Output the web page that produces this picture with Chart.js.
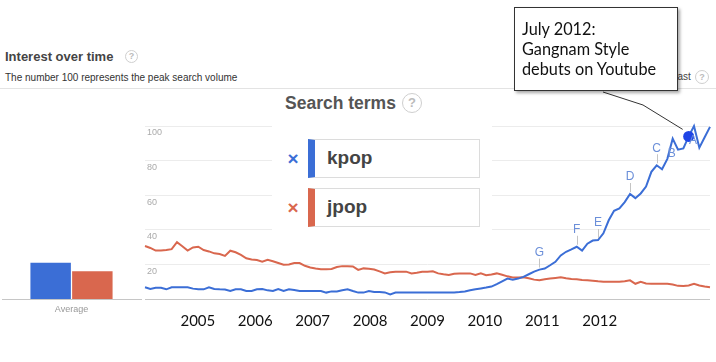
<!DOCTYPE html>
<html><head><meta charset="utf-8">
<script src="https://cdn.jsdelivr.net/npm/chart.js@4.4.0/dist/chart.umd.min.js"></script>
<style>
html,body{margin:0;padding:0;background:#fff;width:716px;height:362px;overflow:hidden;font-family:"Liberation Sans",Arial,sans-serif;}
.abs{position:absolute;white-space:nowrap;}
canvas{position:absolute;left:0;top:0;z-index:1;}
.help{position:absolute;box-sizing:border-box;border:1px solid #cfcfcf;border-radius:50%;color:#bbb;text-align:center;font-weight:bold;}
.term{position:absolute;box-sizing:border-box;left:308px;width:172px;height:39px;border:1px solid #dcdcdc;background:#fff;font-weight:bold;font-size:19px;color:#444;line-height:35px;padding-left:12px;}
.x{position:absolute;left:286px;width:14px;text-align:center;font-weight:bold;font-size:19px;line-height:20px;}
</style>
</head><body>
<div class="abs" style="left:5px;top:48px;font-size:13px;line-height:17px;font-weight:bold;color:#444;">Interest over time</div>
<div class="help" style="left:125px;top:50px;width:13px;height:13px;font-size:9px;line-height:11px;">?</div>
<div class="abs" style="left:5px;top:72px;font-size:10px;line-height:12px;color:#333;">The number 100 represents the peak search volume</div>
<div class="abs" style="left:0;top:88px;width:716px;height:1px;background:#e3e3e3;"></div>
<div class="abs" style="left:652px;top:71px;font-size:10px;line-height:12px;color:#444;">Forecast</div>
<div class="help" style="left:695px;top:70px;width:14px;height:14px;font-size:9px;line-height:12px;">?</div>

<canvas id="avg" width="145" height="362"></canvas>
<canvas id="main" width="716" height="362"></canvas>

<div class="abs" style="left:272px;top:90px;width:220px;height:148px;background:#fff;z-index:2;">
  <div class="abs" style="left:13px;top:3px;font-size:17.5px;line-height:20px;font-weight:bold;color:#555;">Search terms</div>
  <div class="help" style="left:130px;top:3px;width:20px;height:20px;font-size:13px;line-height:18px;">?</div>
</div>
<div style="position:absolute;left:0;top:0;z-index:3;">
  <div class="x" style="top:149px;color:#3b6ed6;">×</div>
  <div class="term" style="top:139px;border-left:7px solid #3b6ed6;">kpop</div>
  <div class="x" style="top:198px;color:#d9674e;">×</div>
  <div class="term" style="top:188px;border-left:7px solid #d9674e;">jpop</div>
</div>

<div class="abs" style="left:514px;top:7px;width:164px;height:84px;box-sizing:border-box;border:1px solid #333;background:#fff;box-shadow:2px 2px 3px rgba(0,0,0,0.35);z-index:5;font-family:Lato,'Open Sans',sans-serif;font-size:16.3px;line-height:20px;color:#111;padding:11px 0 0 7px;">July 2012:<br>Gangnam Style<br>debuts on Youtube</div>

<script>
// ---- data ----
const monthNames = ['Jan','Feb','Mar','Apr','May','Jun','Jul','Aug','Sep','Oct','Nov','Dec'];
const months = [];
for (let y = 2004; y <= 2012; y++) for (let m = 0; m < 12; m++) { if (y === 2012 && m > 10) break; months.push(monthNames[m] + ' ' + y); }

const kpop = [
 6.8,5.8,6.5,6.5,5.6,6.8,6.8,6.8,6.8,6.0,
 5.6,5.6,6.8,5.8,5.6,5.5,4.6,5.6,5.6,4.6,
 4.6,5.6,5.8,5.0,4.6,5.8,4.6,5.6,5.2,4.6,
 4.6,4.6,4.6,4.6,3.7,4.4,4.4,5.0,5.6,4.6,
 3.7,3.7,4.6,4.0,4.0,3.8,2.7,3.7,3.7,3.7,
 3.7,3.7,3.7,3.7,3.7,3.7,3.7,3.7,3.7,4.0,
 4.4,5.0,5.6,6.1,6.6,7.2,8.6,10.2,11.8,11.1,
 11.8,12.8,14.3,15.8,17.0,17.6,19.5,21.5,25.2,27.3,
 28.7,30.2,28.0,32.0,33.8,34.1,38.0,45.5,51.0,52.4,
 56.0,60.7,58.3,61.0,65.0,73.5,77.3,75.0,81.0,92.7,
 86.3,87.0,94.0,100,87.5,93.5,99.5
];
const jpop = [
 30.6,29.5,28.0,28.0,28.3,28.8,32.8,30.5,28.0,29.8,
 30.2,28.3,27.5,26.4,26.0,24.9,27.9,27.0,25.5,23.5,
 22.8,22.5,21.6,22.6,21.8,20.8,19.8,20.0,20.8,20.8,
 19.2,18.2,17.6,17.2,17.2,17.4,18.5,19.0,19.0,18.8,
 16.8,17.7,17.5,17.0,16.0,14.8,15.5,15.8,15.8,15.8,
 14.8,15.2,15.8,15.8,16.0,14.8,14.3,13.9,14.6,14.8,
 14.8,14.8,13.9,14.8,13.8,14.2,14.8,14.0,13.1,12.5,
 12.5,12.6,12.0,11.2,10.8,11.4,11.8,12.2,12.5,12.0,
 11.6,11.4,11.0,10.8,10.5,10.2,10.0,10.0,10.0,10.0,
 10.2,10.8,8.8,10.0,9.0,8.8,8.8,8.8,8.8,8.4,
 7.6,7.5,7.8,8.8,7.8,7.2,6.8
];
const averageLabels = ['Average'];
const kpopAvg = [21];
const jpopAvg = [16];
const yearLabels = ['2005','2006','2007','2008','2009','2010','2011','2012'];
const yTicks = [20,40,60,80,100];
const newsFlags = [
 {letter:'G', month:'Mar 2010', side:'above'},
 {letter:'F', month:'Oct 2010', side:'above'},
 {letter:'E', month:'Feb 2011', side:'above'},
 {letter:'D', month:'Aug 2011', side:'above'},
 {letter:'C', month:'Jan 2012', side:'above'},
 {letter:'B', month:'Apr 2012', side:'below'},
 {letter:'A', month:'Aug 2012', side:'below'}
];
const gangnamMonth = 'Jul 2012';

// ---- styles ----
const BLUE = '#3b6ed6', RED = '#d9674e';
const gIdx = months.indexOf(gangnamMonth);

const flagsPlugin = {
  id: 'flags',
  afterDatasetsDraw(chart) {
    const ctx = chart.ctx, xs = chart.scales.x, ys = chart.scales.y;
    ctx.save();
    ctx.font = '12px "Liberation Sans", Arial, sans-serif';
    ctx.textAlign = 'center'; ctx.textBaseline = 'middle';
    newsFlags.forEach(f => {
      const i = months.indexOf(f.month);
      const x = xs.getPixelForValue(i), y = ys.getPixelForValue(kpop[i]);
      if (f.side === 'above') {
        ctx.strokeStyle = '#c4c4c4'; ctx.lineWidth = 1;
        ctx.beginPath(); ctx.moveTo(Math.round(x)+0.5, y - 2); ctx.lineTo(Math.round(x)+0.5, y - 11); ctx.stroke();
        ctx.fillStyle = '#6b8fd9'; ctx.fillText(f.letter, x, y - 17);
      } else {
        ctx.fillStyle = '#6b8fd9'; ctx.fillText(f.letter, x - 1, y + 15);
      }
    });
    // callout line to the Gangnam Style point
    const pt = chart.getDatasetMeta(0).data[gIdx];
    ctx.strokeStyle = '#333'; ctx.lineWidth = 1;
    ctx.beginPath(); ctx.moveTo(603, 92); ctx.lineTo(643, 105); ctx.lineTo(pt.x - 6, pt.y - 7); ctx.stroke();
    ctx.restore();
  }
};

new Chart(document.getElementById('main'), {
  type: 'line',
  data: {
    labels: months,
    datasets: [
      { label: 'kpop', data: kpop, borderColor: BLUE, borderWidth: 2, tension: 0,
        pointRadius: kpop.map((v, i) => i === gIdx ? 5.5 : 0), pointBackgroundColor: '#1f45e6', pointBorderWidth: 0, clip: false },
      { label: 'jpop', data: jpop, borderColor: RED, borderWidth: 2, tension: 0, pointRadius: 0, clip: false }
    ]
  },
  options: {
    responsive: false, animation: false, events: [],
    layout: { padding: { left: 141, right: 6, top: 126, bottom: 23 } },
    plugins: { legend: { display: false }, tooltip: { enabled: false } },
    scales: {
      x: { type: 'category', display: false, offset: false },
      x2: { type: 'linear', position: 'bottom', min: 2004.08, max: 2013.92,
        grid: { display: false, drawTicks: false }, border: { display: false },
        afterBuildTicks: s => { s.ticks = yearLabels.map(y => ({ value: Number(y) })); },
        afterFit: s => { s.height = 40; },
        ticks: { padding: 13, color: '#111', autoSkip: false, maxRotation: 0,
          font: { family: 'Lato, sans-serif', size: 15 },
          callback: v => String(v) } },
      y: { min: 0, max: 100,
        afterBuildTicks: s => { s.ticks = [0].concat(yTicks).map(v => ({ value: v })); },
        grid: { drawTicks: false, color: c => c.tick && c.tick.value === 0 ? '#c6c6c6' : '#ececec' },
        border: { display: false },
        ticks: { mirror: true, padding: 2, labelOffset: 7, color: '#aaa',
          font: { family: '"Liberation Sans", Arial, sans-serif', size: 9 },
          callback: v => v === 0 ? '' : String(v) } }
    }
  },
  plugins: [flagsPlugin]
});

new Chart(document.getElementById('avg'), {
  type: 'bar',
  data: {
    labels: averageLabels,
    datasets: [
      { data: kpopAvg, backgroundColor: BLUE, categoryPercentage: 0.6, barPercentage: 0.97 },
      { data: jpopAvg, backgroundColor: RED, categoryPercentage: 0.6, barPercentage: 0.97 }
    ]
  },
  options: {
    responsive: false, animation: false, events: [],
    layout: { padding: { left: 2, right: 4, top: 126, bottom: 23 } },
    plugins: { legend: { display: false }, tooltip: { enabled: false } },
    scales: {
      x: { grid: { display: false, drawTicks: false }, border: { display: true, color: '#c6c6c6' },
        afterFit: s => { s.height = 40; },
        ticks: { padding: 5, color: '#999', font: { family: '"Liberation Sans", Arial, sans-serif', size: 9 } } },
      y: { display: false, min: 0, max: 100 }
    }
  }
});
</script>
</body></html>
